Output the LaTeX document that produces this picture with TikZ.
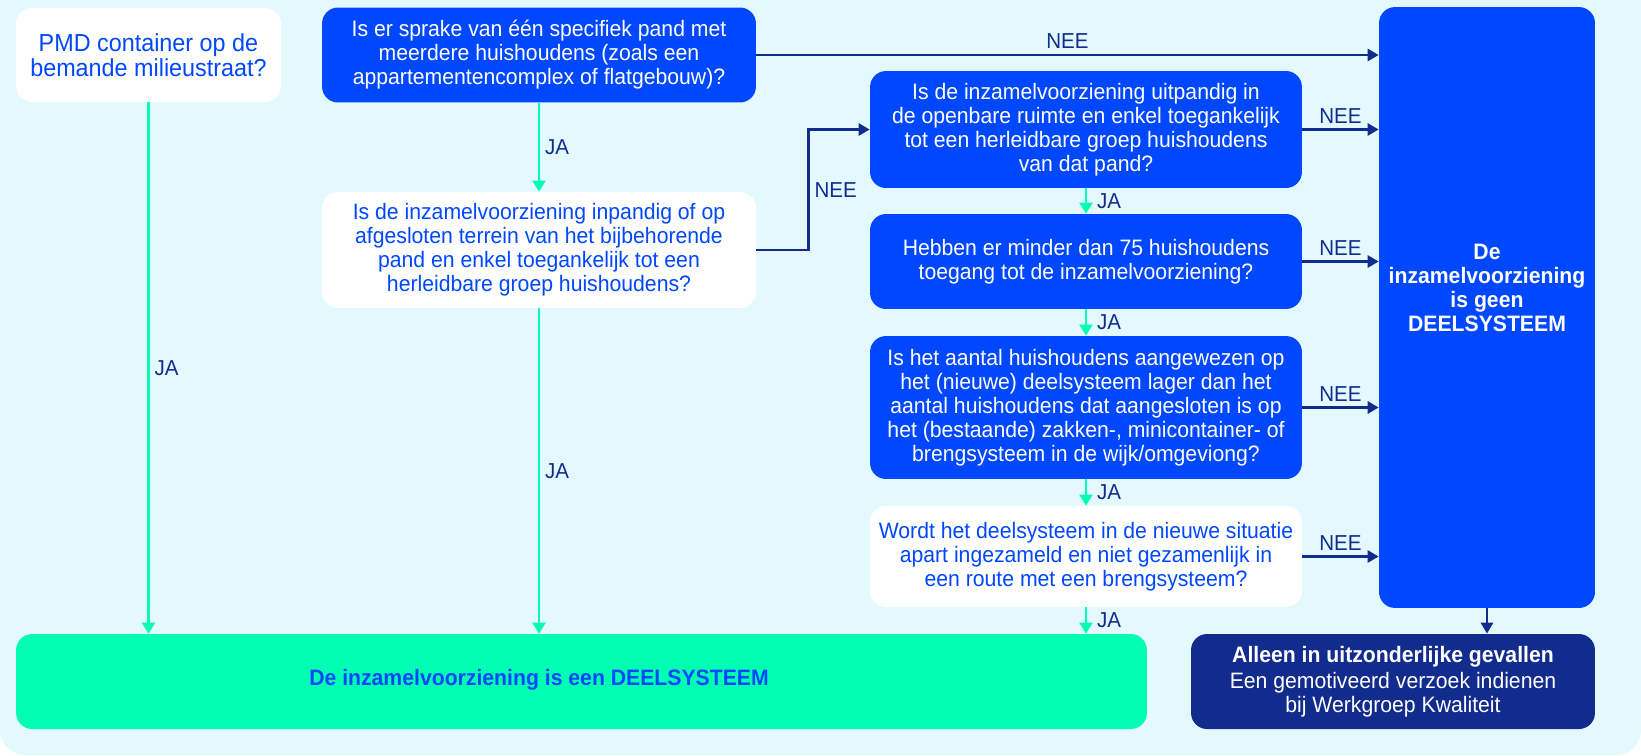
\documentclass[tikz,border=0pt]{standalone}
\usepackage{fontspec}
\setmainfont{Liberation Sans}[FakeStretch=0.95]
\usetikzlibrary{arrows.meta}

\definecolor{achter}{HTML}{E4F9FE}
\definecolor{kobalt}{HTML}{0048FF}
\definecolor{marine}{HTML}{122C8E}
\definecolor{munt}{HTML}{00FFB3}

\tikzset{
  box/.style={rectangle, rounded corners=0.32cm, inner sep=0pt, align=center,
    font=\fontsize{12.7}{13.7}\selectfont},
  wit/.style={box, fill=white, text=kobalt},
  blauw/.style={box, fill=kobalt, text=white},
  japijl/.style={draw=munt, line width=1.15pt, -{Triangle[length=0.22cm, width=0.26cm]}},
  neepijl/.style={draw=marine, line width=1.5pt, -{Triangle[length=0.22cm, width=0.24cm]}},
  lbl/.style={text=marine, font=\fontsize{12.3}{13}\selectfont, inner sep=0.1cm}
}

\begin{document}
\begin{tikzpicture}[x=0.02cm, y=-0.02cm]
\fill[achter, rounded corners=0.5cm] (0,755) -- (0,0) -- (1641,0) -- (1641,755) -- cycle;
\fill[achter] (0,0) rectangle (1641,400);
\useasboundingbox (0,0) rectangle (1641,755);

\node[wit, minimum width=5.3cm, minimum height=1.88cm, font=\fontsize{14}{14.4}\selectfont] (pmd) at (148.5, 55) {PMD container op de\\bemande milieustraat?};
\node[blauw, minimum width=8.68cm, minimum height=1.9cm] (pand) at (539, 55) {Is er sprake van één specifiek pand met\\meerdere huishoudens (zoals een\\appartementencomplex of flatgebouw)?};
\node[wit, minimum width=8.68cm, minimum height=2.32cm] (inpandig) at (539, 250) {Is de inzamelvoorziening inpandig of op\\afgesloten terrein van het bijbehorende\\pand en enkel toegankelijk tot een\\herleidbare groep huishoudens?};
\node[blauw, minimum width=8.64cm, minimum height=2.34cm] (uitpandig) at (1086, 129.5) {Is de inzamelvoorziening uitpandig in\\de openbare ruimte en enkel toegankelijk\\tot een herleidbare groep huishoudens\\van dat pand?};
\node[blauw, minimum width=8.64cm, minimum height=1.9cm] (minder) at (1086, 261.5) {Hebben er minder dan 75 huishoudens\\toegang tot de inzamelvoorziening?};
\node[blauw, minimum width=8.64cm, minimum height=2.86cm] (aantal) at (1086, 407.5) {Is het aantal huishoudens aangewezen op\\het (nieuwe) deelsysteem lager dan het\\aantal huishoudens dat aangesloten is op\\het (bestaande) zakken-, minicontainer- of\\brengsysteem in de wijk/omgeviong?};
\node[wit, minimum width=8.64cm, minimum height=2.02cm] (apart) at (1086, 556.5) {Wordt het deelsysteem in de nieuwe situatie\\apart ingezameld en niet gezamenlijk in\\een route met een brengsysteem?};

% uitkomsten
\node[blauw, minimum width=4.32cm, minimum height=12.02cm] (geen) at (1487, 307.5) {};
\node[text=white, align=center, font=\bfseries\fontsize{12.7}{13.7}\selectfont] (geentxt) at (1487, 288) {De\\inzamelvoorziening\\is geen\\DEELSYSTEEM};
\node[box, fill=munt, minimum width=22.62cm, minimum height=1.9cm] (deel) at (581.5, 681.5) {};
\node[text=kobalt, font=\bfseries\fontsize{12.7}{13.7}\selectfont] (deeltxt) at (539, 680) {De inzamelvoorziening is een DEELSYSTEEM};
\node[box, fill=marine, text=white, minimum width=8.08cm, minimum height=1.9cm] (uitz) at (1393, 681.5) {\textbf{Alleen in uitzonderlijke gevallen}\\[1pt]Een gemotiveerd verzoek indienen\\bij Werkgroep Kwaliteit};

% JA
\draw[japijl] (pmd.south) -- node[lbl, right] {JA} (pmd.south |- deel.north);
\draw[japijl] (pand.south) -- node[lbl, right] {JA} (inpandig.north);
\draw[japijl] (inpandig.south) -- node[lbl, right] {JA} (inpandig.south |- deel.north);
\draw[japijl] (uitpandig.south) -- node[lbl, right, xshift=0.1cm] {JA} (minder.north);
\draw[japijl] (minder.south) -- node[lbl, right, xshift=0.1cm] {JA} (aantal.north);
\draw[japijl] (aantal.south) -- node[lbl, right, xshift=0.1cm] {JA} (apart.north);
\draw[japijl] (apart.south) -- node[lbl, right, xshift=0.1cm] {JA} (apart.south |- deel.north);

% NEE
\draw[neepijl] (pand.east) -- node[lbl, above] {NEE} (pand.east -| geen.west);
\draw[neepijl] (inpandig.east) -- ++(52,0) |- node[lbl, pos=0.25, right] {NEE} (uitpandig.west);
\draw[neepijl] (uitpandig.east) -- node[lbl, above] {NEE} (uitpandig.east -| geen.west);
\draw[neepijl] (minder.east) -- node[lbl, above] {NEE} (minder.east -| geen.west);
\draw[neepijl] (aantal.east) -- node[lbl, above] {NEE} (aantal.east -| geen.west);
\draw[neepijl] (apart.east) -- node[lbl, above] {NEE} (apart.east -| geen.west);
\draw[neepijl] (geen.south) -- (geen.south |- uitz.north);

\end{tikzpicture}
\end{document}
